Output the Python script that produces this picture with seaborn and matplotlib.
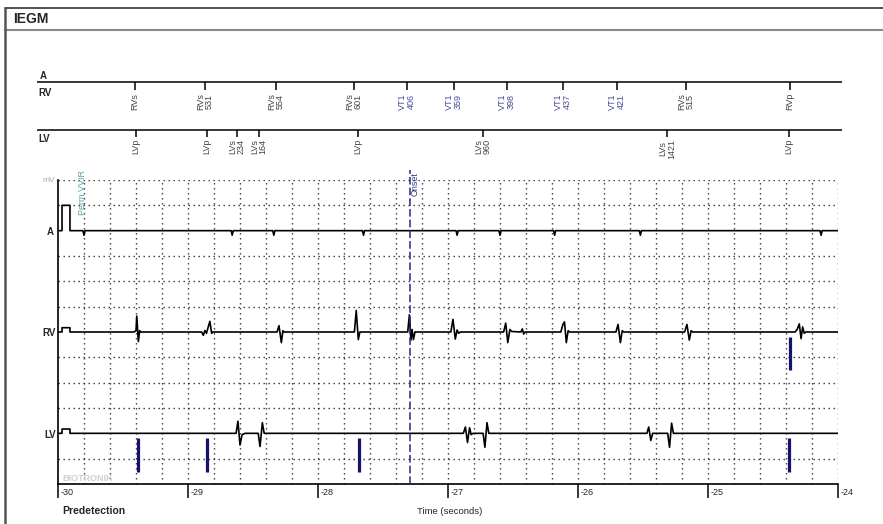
import matplotlib.pyplot as plt
import seaborn as sns
import pandas as pd
import numpy as np
from matplotlib.lines import Line2D
from matplotlib.transforms import blended_transform_factory

W, H = 883, 524

# ---- values ----
time_ticks = [-30, -29, -28, -27, -26, -25, -24]

rv_marker_times = [-29.408, -28.869, -28.323, -27.723, -27.315, -26.954,
                   -26.546, -26.115, -25.700, -25.169, -24.369]
rv_marker_labels = ['RVs', 'RVs\n531', 'RVs\n554', 'RVs\n601', 'VT1\n406', 'VT1\n359',
                    'VT1\n398', 'VT1\n437', 'VT1\n421', 'RVs\n515', 'RVp']

lv_marker_times = [-29.400, -28.854, -28.623, -28.454, -27.692, -26.731, -25.315, -24.377]
lv_marker_labels = ['LVp', 'LVp', 'LVs\n234', 'LVs\n164', 'LVp', 'LVs\n960', 'LVs\n1421', 'LVp']

# calibration pulse (start, end) in seconds and heights in grid units
cal_pulse = (-29.969, -29.908)
cal_heights = {'A': 1.0, 'RV': 0.17, 'LV': 0.17}

# atrial channel: small negative deflections
a_sense_times = [-29.80, -28.66, -28.34, -27.65, -26.93, -26.60, -26.18, -25.52, -24.13]
a_sense_shape = [(-8, 0), (0, -0.18), (8, 0)]

# RV complexes: centre time (s) and shape as (offset ms, amplitude)
rv_beat_times = [-29.39, -28.85, -28.29, -27.70, -27.29, -26.95,
                 -26.54, -26.10, -25.68, -25.15, -24.29]
rv_beat_shapes = [
    [(-25, 0), (-10, 0.05), (-4, 0.63), (8, -0.38), (18, 0.05), (28, 0)],
    [(-45, 0), (-32, -0.13), (-20, 0.06), (-8, -0.05), (18, 0.42), (32, -0.05), (42, 0)],
    [(-25, 0), (-10, 0.25), (8, -0.42), (20, 0.05), (30, 0)],
    [(-20, 0), (-6, 0.85), (10, -0.3), (22, 0)],
    [(-20, 0), (-7, 0.68), (5, -0.32), (14, 0.1), (24, -0.3), (36, 0)],
    [(-28, 0), (-12, 0.5), (6, -0.28), (20, 0.08), (32, -0.05), (45, 0)],
    [(-32, 0), (-16, 0.35), (0, -0.42), (16, 0.1), (30, 0.02), (100, 0), (112, 0.12), (122, -0.08), (132, 0)],
    [(-32, 0), (-16, 0.3), (-4, 0.4), (10, -0.42), (24, 0.05), (36, 0)],
    [(-28, 0), (-12, 0.3), (6, -0.42), (20, 0.05), (32, 0)],
    [(-30, 0), (-12, 0.3), (6, -0.32), (20, 0.05), (32, 0)],
    [(-40, 0), (-24, 0.1), (-8, 0.32), (6, -0.26), (18, 0.2), (30, -0.05), (42, 0)],
]

lv_beat_times = [-28.61, -28.44, -26.85, -26.71, -25.45, -25.29]
lv_beat_shapes = [
    [(-20, 0), (-6, 0.48), (10, -0.46), (26, -0.05), (50, 0)],
    [(-20, 0), (-6, -0.52), (12, 0.42), (26, 0)],
    [(-32, 0), (-16, 0.25), (0, -0.36), (16, 0.22), (28, -0.05), (42, 0)],
    [(-20, 0), (-6, -0.55), (10, 0.42), (24, 0)],
    [(-20, 0), (-6, 0.25), (10, -0.28), (24, 0)],
    [(-20, 0), (-6, -0.55), (10, 0.4), (24, 0)],
]

lv_pace_times = [-29.385, -28.854, -27.685, -24.377]
rv_pace_times = [-24.369]
onset_time = -27.29

# ---- style ----
sns.set_style('white')
plt.rcParams['font.family'] = ['Liberation Sans', 'DejaVu Sans']

baselines = {'A': 10, 'RV': 6, 'LV': 2}
NAVY = '#14146e'


def build_trace(channel, beat_times, beat_shapes):
    t = [-30.0, cal_pulse[0], cal_pulse[0], cal_pulse[1], cal_pulse[1]]
    h = cal_heights[channel]
    y = [0, 0, h, h, 0]
    for tc, shape in zip(beat_times, beat_shapes):
        for dt, amp in shape:
            t.append(tc + dt / 1000)
            y.append(amp)
    t.append(-24.0)
    y.append(0)
    return pd.DataFrame({'t': t, 'mv': np.array(y) + baselines[channel]})


def ftext(x, y, s, **kw):
    fig.text(x / W, 1 - y / H, s, **kw)


def fline(x0, y0, x1, y1, **kw):
    fig.add_artist(Line2D([x0 / W, x1 / W], [1 - y0 / H, 1 - y1 / H],
                          transform=fig.transFigure, **kw))


fig = plt.figure(figsize=(W / 100, H / 100), dpi=100)

# outer frame and header
fline(5, 8, W, 8, color='#333333', lw=1.2)
fline(5, 30, W, 30, color='#888888', lw=1.5)
fline(5, 8, 5, H, color='#555555', lw=1.8)
ftext(13, 19, 'IEGM', fontsize=10, fontweight='bold', va='center', ha='left')

# ---- marker channel area ----
axm = fig.add_axes([37 / W, 1 - 175 / H, 805 / W, 115 / H])
axm.set_xlim(-30 - 21 / 130, -30 + 784 / 130)
axm.set_ylim(175, 60)
axm.axis('off')
axm.axhline(82, color='black', lw=1.1)
axm.axhline(130, color='black', lw=1.1)
axm.vlines(rv_marker_times, 82, 90, color='black', lw=1.1)
axm.vlines(lv_marker_times, 130, 137, color='black', lw=1.1)
for t, lab in zip(rv_marker_times, rv_marker_labels):
    col = '#4a4a9a' if lab.startswith('VT') else '#444444'
    axm.text(t, 93, lab, rotation=90, va='top', ha='center', fontsize=6.5,
             color=col, linespacing=0.95)
for t, lab in zip(lv_marker_times, lv_marker_labels):
    axm.text(t, 139, lab, rotation=90, va='top', ha='center', fontsize=6.5,
             color='#444444', linespacing=0.95)
ftext(40, 76, 'A', fontsize=7, fontweight='bold', va='center')
ftext(38, 93, 'RV', fontsize=7, fontweight='bold', va='center')
ftext(38, 139, 'LV', fontsize=7, fontweight='bold', va='center')

# ---- main IEGM area ----
ax = fig.add_axes([58 / W, 1 - 484 / H, 780 / W, 304 / H])
ax.set_xlim(-30, -24)
ax.set_ylim(0, 12)

grid_kw = dict(color='#333333', lw=1.0, ls=(0, (1, 2.6)), zorder=0)
for gx in np.round(np.arange(-29.8, -23.95, 0.2), 2):
    ax.axvline(gx, **grid_kw)
for gy in [1, 3, 4, 5, 7, 8, 9, 11, 12]:
    ax.axhline(gy, **grid_kw)

a_trace = build_trace('A', a_sense_times, [a_sense_shape] * len(a_sense_times))
rv_trace = build_trace('RV', rv_beat_times, rv_beat_shapes)
lv_trace = build_trace('LV', lv_beat_times, lv_beat_shapes)
for df in (a_trace, rv_trace, lv_trace):
    sns.lineplot(data=df, x='t', y='mv', ax=ax, color='black', lw=1.2,
                 sort=False, estimator=None, legend=False, zorder=3)

ax.vlines(lv_pace_times, baselines['LV'] - 1.53, baselines['LV'] - 0.19,
          color=NAVY, lw=2.3, zorder=4)
ax.vlines(rv_pace_times, baselines['RV'] - 1.5, baselines['RV'] - 0.2,
          color=NAVY, lw=2.3, zorder=4)

ax.plot([onset_time, onset_time], [0, 12.4], ls=(0, (5, 2)), color='#2a2a7a',
        lw=1.1, clip_on=False, zorder=5)
ax.text(onset_time + 0.04, 11.35, 'Onset', rotation=90, va='bottom', ha='center',
        fontsize=6.5, color='#3a3a8a')
ax.text(-29.815, 10.6, 'Perm VVIR', rotation=90, va='bottom', ha='center',
        fontsize=6.5, color='#5aa5a5', clip_on=False)
ax.text(-29.97, 0.22, 'BIOTRONIK', fontsize=6.5, fontweight='bold',
        color='#d0d0d0', ha='left', va='center')

for side in ['top', 'right']:
    ax.spines[side].set_visible(False)
for side in ['left', 'bottom']:
    ax.spines[side].set_color('black')
    ax.spines[side].set_linewidth(1.2)

ax.set_xticks(time_ticks)
ax.set_yticks([])
ax.tick_params(axis='x', bottom=True, direction='out', length=10, width=1.1,
               color='black', labelbottom=False)
ax.set_xlabel('')
ax.set_ylabel('')
trans = blended_transform_factory(ax.transData, ax.transAxes)
for t in time_ticks:
    ax.text(t + 0.02, -0.028, f'{t}', transform=trans, ha='left', va='center',
            fontsize=6.5)

ftext(55, 181, 'mV', fontsize=6, color='#aaaaaa', ha='right', va='center')
ftext(54, 232, 'A', fontsize=7, fontweight='bold', ha='right', va='center')
ftext(56, 333, 'RV', fontsize=7, fontweight='bold', ha='right', va='center')
ftext(56, 435, 'LV', fontsize=7, fontweight='bold', ha='right', va='center')
ftext(62, 511, 'Predetection', fontsize=7.5, fontweight='bold', ha='left', va='center')
ftext(450, 511, 'Time (seconds)', fontsize=6.8, ha='center', va='center')

fig.savefig('out.png', dpi=100)
